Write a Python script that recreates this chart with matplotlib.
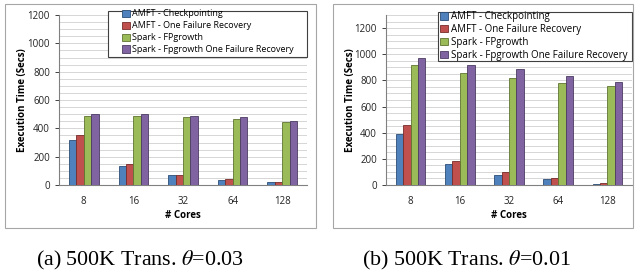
import matplotlib
matplotlib.use("Agg")
import matplotlib.pyplot as plt
import numpy as np
from matplotlib.patches import Rectangle
from matplotlib.ticker import MultipleLocator

plt.rcParams['font.family'] = ['Open Sans', 'DejaVu Sans']
plt.rcParams['mathtext.fontset'] = 'stix'

cores = ['8', '16', '32', '64', '128']
series = ['AMFT - Checkpointing', 'AMFT - One Failure Recovery',
          'Spark - FPgrowth', 'Spark - Fpgrowth One Failure Recovery']
colors = ['#4F81BD', '#C0504D', '#9BBB59', '#8064A2']
edges = ['#2C4D75', '#772C2A', '#5F7530', '#4D3B62']

a_ckpt = [320, 135, 68, 38, 20]
a_rec = [350, 150, 70, 40, 22]
a_fp = [490, 485, 483, 465, 445]
a_fprec = [500, 500, 487, 478, 452]

b_ckpt = [390, 160, 80, 45, 10]
b_rec = [460, 185, 100, 55, 15]
b_fp = [915, 860, 820, 778, 757]
b_fprec = [968, 920, 885, 830, 785]

captions = [r'(a) 500K Trans. $\theta$=0.03', r'(b) 500K Trans. $\theta$=0.01']

W, H = 637, 270
fig = plt.figure(figsize=(W / 100, H / 100), dpi=100)

def px(x0, y0, x1, y1):
    return [x0 / W, 1 - y1 / H, (x1 - x0) / W, (y1 - y0) / H]

def frame(x0, y0, x1, y1, color, lw):
    fig.patches.append(Rectangle((x0 / W, 1 - y1 / H), (x1 - x0) / W, (y1 - y0) / H,
                                 transform=fig.transFigure, fill=False,
                                 edgecolor=color, linewidth=lw, zorder=5))

# outer frames
frame(5, 4, 316, 228, '#A6A6A6', 0.8)
frame(333, 4, 633, 228, '#A6A6A6', 0.8)

panels = [
    dict(rect=px(59, 15, 307, 185), data=[a_ckpt, a_rec, a_fp, a_fprec], ymax=1200,
         legbox=(108, 11, 307, 57), legpos=(122, 9.5), legfs=6.5, legsp=0.32,
         ylx=23, cap=(140, 260)),
    dict(rect=px(386, 15, 632, 185), data=[b_ckpt, b_rec, b_fp, b_fprec], ymax=1300,
         legbox=(438, 12, 632, 61), legpos=(440, 11), legfs=7.0, legsp=0.2,
         ylx=350, cap=(466, 260)),
]

x = np.arange(len(cores))
bw = 0.15
for i, p in enumerate(panels):
    ax = fig.add_axes(p['rect'])
    for k, vals in enumerate(p['data']):
        ax.bar(x + (k - 1.5) * bw, vals, bw, color=colors[k], edgecolor=edges[k],
               linewidth=0.6, label=series[k], zorder=3)
    ax.set_xlim(-0.5, len(cores) - 0.5)
    ax.set_ylim(0, p['ymax'])
    ax.set_xticks(x)
    ax.set_xticklabels(cores)
    ax.yaxis.set_major_locator(MultipleLocator(200))
    ax.yaxis.set_minor_locator(MultipleLocator(50))
    ax.grid(True, which='both', axis='y', color='#D0D0D0', linewidth=0.6, zorder=0)
    ax.set_axisbelow(True)
    for s in ['top', 'right']:
        ax.spines[s].set_visible(False)
    for s in ['left', 'bottom']:
        ax.spines[s].set_color('#808080')
        ax.spines[s].set_linewidth(0.8)
    ax.tick_params(axis='x', length=0, labelsize=7, pad=8, colors='#222222')
    ax.tick_params(axis='y', which='major', length=3, labelsize=7, colors='#222222',
                   direction='out', width=0.6)
    ax.tick_params(axis='y', which='minor', length=0)
    ax.set_xlabel('# Cores', fontsize=7, fontweight='bold', labelpad=2)
    fig.text(p['ylx'] / W, 1 - 100 / H, 'Execution Time (Secs)', rotation=90,
             fontsize=7, fontweight='bold', ha='center', va='center')
    # legend box (white background + dark frame)
    bx0, by0, bx1, by1 = p['legbox']
    fig.patches.append(Rectangle((bx0 / W, 1 - by1 / H), (bx1 - bx0) / W, (by1 - by0) / H,
                                 transform=fig.transFigure, facecolor='white',
                                 edgecolor='#404040', linewidth=0.8, zorder=4))
    leg = fig.legend(*ax.get_legend_handles_labels(), loc='upper left',
                     bbox_to_anchor=(p['legpos'][0] / W, 1 - p['legpos'][1] / H),
                     fontsize=p['legfs'], frameon=False, handlelength=0.85,
                     handleheight=0.85, handletextpad=0.3, labelspacing=p['legsp'],
                     borderpad=0, borderaxespad=0)
    leg.set_zorder(6)
    fig.text(p['cap'][0] / W, 1 - p['cap'][1] / H, captions[i], fontsize=15.8,
             family='Liberation Serif', ha='center', va='center')

fig.savefig('out.png', dpi=100)
